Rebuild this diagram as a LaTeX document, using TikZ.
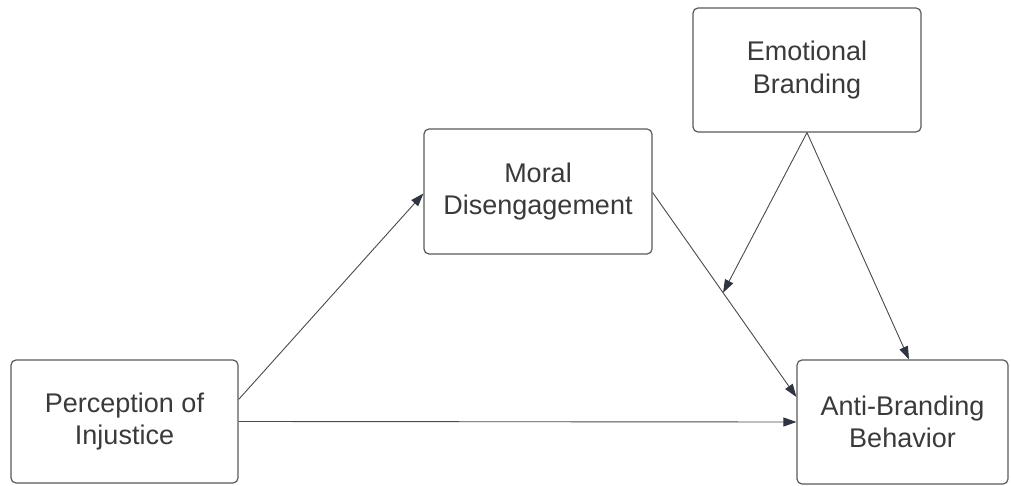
\documentclass[tikz,border=0pt]{standalone}
\usepackage{fontspec}
\setmainfont{Liberation Sans}
\usetikzlibrary{arrows.meta,calc}
\definecolor{boxline}{HTML}{5A5A5A}
\definecolor{txt}{HTML}{3A3A3A}
\definecolor{arrowline}{HTML}{4A4A4A}
\definecolor{tipfill}{HTML}{2E3440}
\begin{document}
\begin{tikzpicture}[x=1pt,y=1pt,
  construct/.style={draw=boxline, line width=1.2pt, rounded corners=5pt,
    fill=white, text=txt, align=center, inner sep=0pt,
    font=\fontsize{27}{32.5}\selectfont},
  link/.style={draw=arrowline, line width=0.9pt,
    -{Triangle[length=13pt,width=9pt,fill=tipfill,color=tipfill]}}]
\useasboundingbox (0,0) rectangle (1011,485);
\fill[white] (0,0) rectangle (1011,485);

\node[construct, minimum width=227pt, minimum height=123pt] (p) at (124.5,63.5) {Perception of\\Injustice};
\node[construct, minimum width=228pt, minimum height=125pt] (m) at (538,293.5) {Moral\\Disengagement};
\node[construct, minimum width=228pt, minimum height=124pt] (e) at (807,415) {Emotional\\Branding};
\node[construct, minimum width=211pt, minimum height=124pt] (a) at (902.5,63) {Anti-Branding\\Behavior};

% mediation paths
\draw[link] ([yshift=22pt]p.east) -- ([yshift=-2pt]m.west);
\draw[link] (p.east) -- (a.west);
\coordinate (mOut) at ([yshift=-1pt]m.east);
\coordinate (aIn) at ([yshift=25pt]a.west);
\draw[link] (mOut) -- (aIn);

% moderation paths
\coordinate (mid) at ($(mOut)!0.49!(aIn)$);
\draw[link] (e.south) -- (mid);
\draw[link] (e.south) -- ([xshift=6.5pt]a.north);
\end{tikzpicture}
\end{document}
